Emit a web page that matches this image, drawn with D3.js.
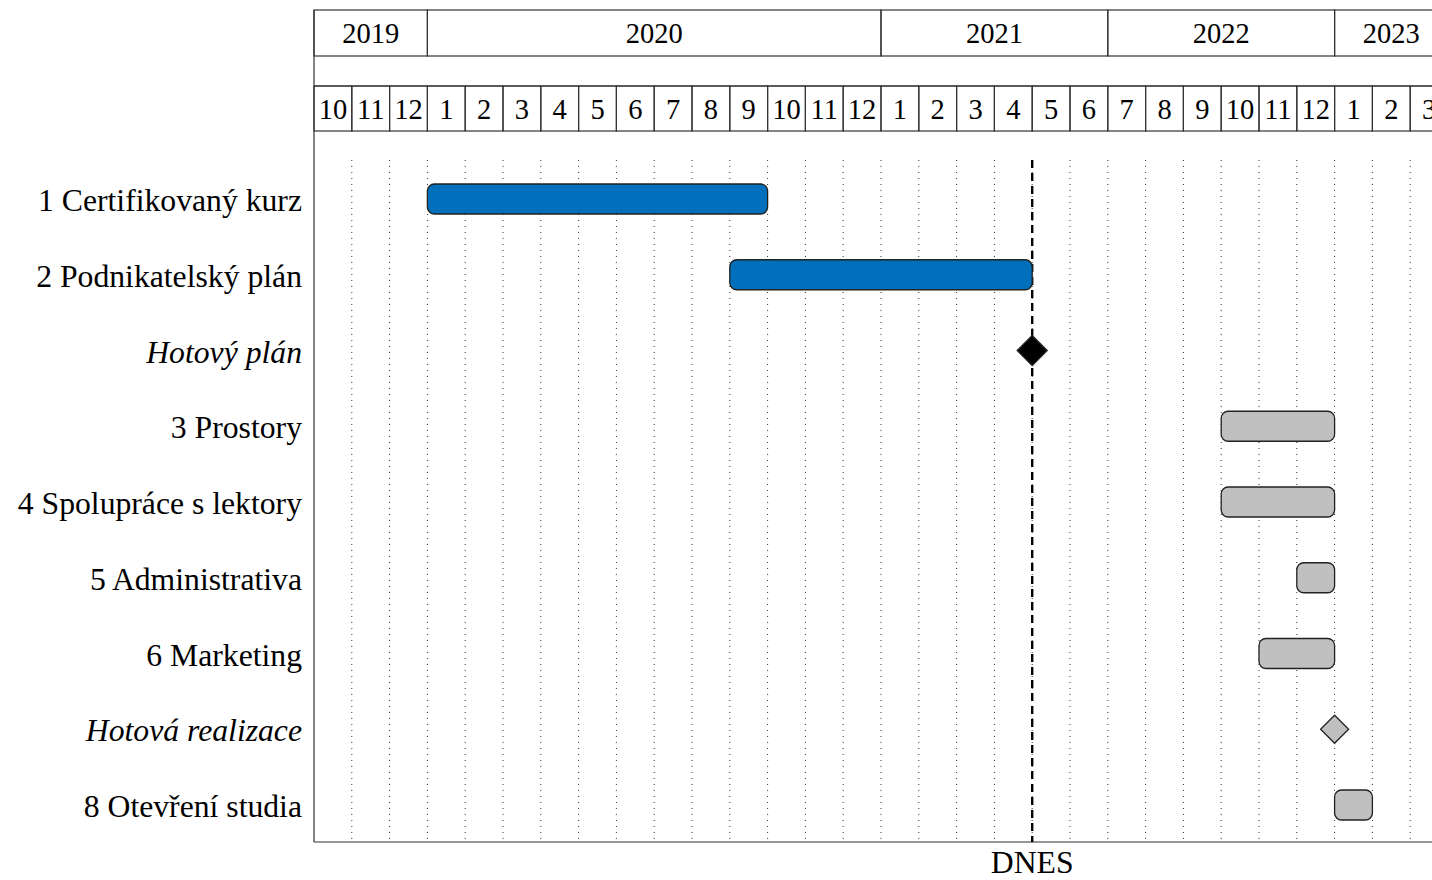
<!DOCTYPE html>
<html>
<head>
<meta charset="utf-8">
<script src="https://cdn.jsdelivr.net/npm/d3@7"></script>
<style>
  body { margin: 0; background: #fff; }
  text { font-family: "Liberation Serif", "Times New Roman", "DejaVu Serif", serif; fill: #000; }
</style>
</head>
<body>
<div id="chart"></div>
<script>
const width = 1432, height = 880;

// header titles (year row as drawn, spans in months)
const years = ["2019", "2020", "2021", "2022", "2023"];
const yearSpans = [3, 12, 6, 6, 3];
const months = ["10", "11", "12", "1", "2", "3", "4", "5", "6", "7", "8", "9", "10", "11", "12",
  "1", "2", "3", "4", "5", "6", "7", "8", "9", "10", "11", "12", "1", "2", "3"];

// tasks: start / end in month columns
const taskNames = ["1 Certifikovaný kurz", "2 Podnikatelský plán", "Hotový plán", "3 Prostory",
  "4 Spolupráce s lektory", "5 Administrativa", "6 Marketing", "Hotová realizace", "8 Otevření studia"];
const taskStart = [3, 11, 19, 24, 24, 26, 25, 27, 27];
const taskEnd = [12, 19, 19, 27, 27, 27, 27, 27, 28];
const taskType = ["bar", "bar", "milestone", "bar", "bar", "bar", "bar", "milestone", "bar"];
const taskDone = [true, true, true, false, false, false, false, false, false];
const today = 19;

const left = 314, colW = 37.8;
const x = d3.scaleLinear().domain([0, months.length]).range([left, left + months.length * colW]);
const y = d3.scalePoint().domain(taskNames).range([199, 805]);

const svg = d3.select("#chart").append("svg")
  .attr("width", width).attr("height", height);

const frame = "#333";
const hTop = 10, yearBot = 56, monTop = 86, monBot = 131, gridTop = 160, bottom = 842;
const right = x(months.length);

// year row
let acc = 0;
const yearCells = years.map((t, i) => { const c = {t, s: acc, e: acc + yearSpans[i]}; acc += yearSpans[i]; return c; });
const yg = svg.append("g");
yg.selectAll("rect").data(yearCells).join("rect")
  .attr("x", d => x(d.s)).attr("y", hTop)
  .attr("width", d => x(d.e) - x(d.s)).attr("height", yearBot - hTop)
  .attr("fill", "none").attr("stroke", frame).attr("stroke-width", 1.2);
yg.selectAll("text").data(yearCells).join("text")
  .attr("x", d => (x(d.s) + Math.min(x(d.e), width + 20)) / 2)
  .attr("y", (hTop + yearBot) / 2 + 10)
  .attr("text-anchor", "middle").attr("font-size", 28.5)
  .text(d => d.t);

// blank row between
svg.append("line").attr("x1", left).attr("x2", right).attr("y1", monTop).attr("y2", monTop)
  .attr("stroke", frame).attr("stroke-width", 1.2);

// month row
const mg = svg.append("g");
mg.selectAll("rect").data(months).join("rect")
  .attr("x", (d, i) => x(i)).attr("y", monTop)
  .attr("width", colW).attr("height", monBot - monTop)
  .attr("fill", "none").attr("stroke", frame).attr("stroke-width", 1.2);
mg.selectAll("text").data(months).join("text")
  .attr("x", (d, i) => x(i + 0.5)).attr("y", (monTop + monBot) / 2 + 10)
  .attr("text-anchor", "middle").attr("font-size", 28.5)
  .text(d => d);

// frame lines
svg.append("line").attr("x1", left).attr("x2", left).attr("y1", hTop).attr("y2", bottom)
  .attr("stroke", frame).attr("stroke-width", 1.2);
svg.append("line").attr("x1", left).attr("x2", right).attr("y1", bottom).attr("y2", bottom)
  .attr("stroke", frame).attr("stroke-width", 1.2);

// dotted grid
svg.append("g").selectAll("line").data(d3.range(1, months.length + 1)).join("line")
  .attr("x1", d => x(d)).attr("x2", d => x(d))
  .attr("y1", gridTop).attr("y2", bottom - 2)
  .attr("stroke", "#333").attr("stroke-width", 1).attr("stroke-dasharray", "1 5");

// labels
svg.append("g").selectAll("text").data(taskNames).join("text")
  .attr("x", 302).attr("y", d => y(d) + 12)
  .attr("text-anchor", "end").attr("font-size", 31.7)
  .attr("font-style", (d, i) => taskType[i] === "milestone" ? "italic" : "normal")
  .text(d => d);

// today line
svg.append("line").attr("x1", x(today)).attr("x2", x(today))
  .attr("y1", gridTop).attr("y2", bottom)
  .attr("stroke", "#000").attr("stroke-width", 2.4).attr("stroke-dasharray", "8 5");
svg.append("text").attr("x", x(today)).attr("y", 873)
  .attr("text-anchor", "middle").attr("font-size", 31.7).text("DNES");

const tasks = taskNames.map((n, i) => ({n, s: taskStart[i], e: taskEnd[i], type: taskType[i], done: taskDone[i]}));

// bars
svg.append("g").selectAll("rect").data(tasks.filter(d => d.type === "bar")).join("rect")
  .attr("x", d => x(d.s)).attr("y", d => y(d.n) - 15)
  .attr("width", d => x(d.e) - x(d.s)).attr("height", 30)
  .attr("rx", 7).attr("ry", 7)
  .attr("fill", d => d.done ? "#0070BD" : "#C0C0C0")
  .attr("stroke", "#222").attr("stroke-width", 1.3);

// milestones
svg.append("g").selectAll("path").data(tasks.filter(d => d.type === "milestone")).join("path")
  .attr("transform", d => `translate(${x(d.s)},${y(d.n)})`)
  .attr("d", d => d.done ? "M0,-15L15,0L0,15L-15,0Z" : "M0,-14L14,0L0,14L-14,0Z")
  .attr("fill", d => d.done ? "#000" : "#C0C0C0")
  .attr("stroke", "#222").attr("stroke-width", 1.3);
</script>
</body>
</html>
